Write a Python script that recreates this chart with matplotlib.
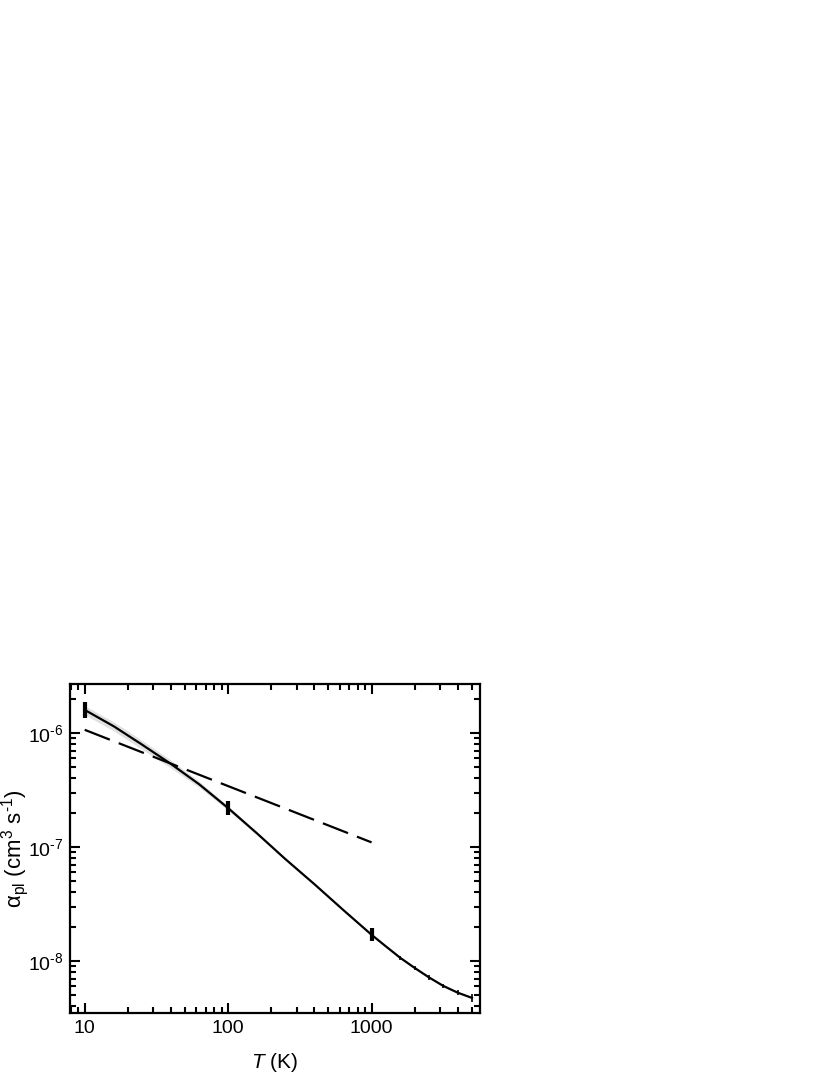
import numpy as np
import matplotlib
matplotlib.use("Agg")
import matplotlib.pyplot as plt
from matplotlib.ticker import LogLocator, NullFormatter, FixedLocator, FixedFormatter

plt.rcParams['font.family'] = ['Liberation Sans', 'DejaVu Sans']
plt.rcParams['mathtext.fontset'] = 'custom'
plt.rcParams['mathtext.rm'] = 'Liberation Sans'
plt.rcParams['mathtext.it'] = 'Liberation Sans:italic'
plt.rcParams['mathtext.sf'] = 'Liberation Sans'

# ---- data ----
curve_T = [10, 16, 25, 40, 63, 100, 160, 250, 400, 630, 1000,
           1260, 1585, 1995, 2512, 3162, 3981, 5012]
curve_alpha = [1.60e-6, 1.146e-6, 7.96e-7, 5.36e-7, 3.55e-7, 2.20e-7, 1.31e-7, 7.87e-8,
               4.72e-8, 2.83e-8, 1.70e-8,
               1.343e-8, 1.067e-8, 8.71e-9, 7.19e-9, 6.05e-9, 5.28e-9, 4.75e-9]
band_frac = [0.09, 0.09, 0.09, 0.08, 0.06, 0.045, 0.03, 0.02, 0.015, 0.01, 0.0,
             0.0, 0.0, 0.0, 0.0, 0.0, 0.0, 0.0]

big_err_T = [10, 100, 1000]
big_err_alpha = [1.6e-6, 2.2e-7, 1.7e-8]
big_err_lo = [0.25e-6, 0.3e-7, 0.2e-8]
big_err_hi = [0.27e-6, 0.32e-7, 0.25e-8]

small_err_T = [1585, 1995, 2512, 3162, 3981, 5012]
small_err_alpha = [1.067e-8, 8.71e-9, 7.19e-9, 6.05e-9, 5.28e-9, 4.75e-9]
small_err = [0.05e-8, 0.04e-8, 0.035e-8, 0.03e-8, 0.027e-8, 0.035e-8]

dash_T = [10, 1000]
dash_alpha = [1.07e-6, 1.1e-7]

x_ticks = [10, 100, 1000]
x_ticklabels = ['10', '100', '1000']
y_ticks = [1e-8, 1e-7, 1e-6]
y_ticklabels = ['$\\mathregular{10^{\u20108}}$', '$\\mathregular{10^{\u20107}}$',
                '$\\mathregular{10^{\u20106}}$']
x_label = r'$\mathit{T}$ (K)'
y_label = '$\\mathregular{\\alpha_{pl}}$ $\\mathregular{(cm^{3}\\ s^{\u20101})}$'

# ---- figure ----
fig = plt.figure(figsize=(8.30, 10.75), dpi=100)
ax = fig.add_axes([70/830, 1 - 1013/1075, 410/830, 329/1075])
ax.set_xscale('log')
ax.set_yscale('log')
ax.set_xlim(7.9, 5700)
ax.set_ylim(3.5e-9, 2.7e-6)

cT = np.array(curve_T, float)
ca = np.array(curve_alpha, float)
bf = np.array(band_frac, float)
ax.fill_between(cT, ca * (1 - bf), ca * (1 + bf), color='#e0e0e0', lw=0, zorder=1)
ax.plot(cT, ca, color='black', lw=1.6, zorder=3, solid_joinstyle='round')

ax.plot(dash_T, dash_alpha, color='black', lw=1.6, dashes=(12.15, 4.3), zorder=2)

ax.errorbar(big_err_T, big_err_alpha, yerr=[big_err_lo, big_err_hi], fmt='none',
            ecolor='black', elinewidth=3.0, capsize=0, zorder=4)
ax.errorbar(small_err_T, small_err_alpha, yerr=small_err, fmt='none',
            ecolor='black', elinewidth=1.2, capsize=0, zorder=4)

for s in ax.spines.values():
    s.set_linewidth(1.6)

ax.xaxis.set_major_locator(FixedLocator(x_ticks))
ax.xaxis.set_major_formatter(FixedFormatter(x_ticklabels))
ax.xaxis.set_minor_locator(LogLocator(base=10, subs=np.arange(2, 10), numticks=20))
ax.xaxis.set_minor_formatter(NullFormatter())
ax.yaxis.set_major_locator(FixedLocator(y_ticks))
ax.yaxis.set_major_formatter(FixedFormatter(y_ticklabels))
ax.yaxis.set_minor_locator(LogLocator(base=10, subs=np.arange(2, 10), numticks=20))
ax.yaxis.set_minor_formatter(NullFormatter())

ax.tick_params(which='both', direction='in', top=True, right=True, width=1.5, labelsize=14)
ax.tick_params(which='major', length=7)
ax.tick_params(which='minor', length=4)
ax.tick_params(axis='x', pad=5)
ax.tick_params(axis='y', pad=5)

ax.set_xlabel(x_label, fontsize=15)
ax.set_ylabel(y_label, fontsize=16)
ax.xaxis.set_label_coords(0.5, -0.115)
ax.yaxis.set_label_coords(-0.096, 0.5)

fig.savefig('out.png', dpi=100)
